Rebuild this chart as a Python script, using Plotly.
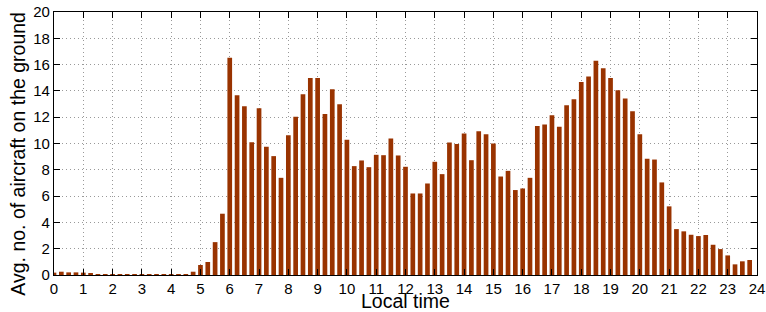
import plotly.graph_objects as go

# Quarter-hour time slots (hours, local time)
time_slots = [i * 0.25 for i in range(96)]

avg_aircraft = [
    # 0:00 - 5:45
    0.18, 0.25, 0.20, 0.20, 0.18, 0.10, 0.05, 0.05,
    0.05, 0.05, 0.05, 0.03, 0.03, 0.03, 0.03, 0.03,
    0.03, 0.03, 0.05, 0.25, 0.76, 0.99, 2.50, 4.66,
    # 6:00 - 11:45
    16.53, 13.67, 12.84, 10.10, 12.68, 9.75, 9.04, 7.39,
    10.63, 12.03, 13.75, 14.99, 14.99, 12.25, 14.13, 12.99,
    10.28, 8.28, 8.71, 8.20, 9.14, 9.11, 10.38, 9.09,
    # 12:00 - 17:45
    8.23, 6.20, 6.20, 6.96, 8.61, 7.67, 10.08, 9.97,
    10.76, 8.73, 10.94, 10.71, 10.00, 7.49, 7.92, 6.46,
    6.58, 7.39, 11.34, 11.44, 12.15, 11.27, 12.91, 13.37,
    # 18:00 - 23:45
    14.68, 15.09, 16.30, 15.72, 14.99, 14.05, 13.42, 12.46,
    10.71, 8.84, 8.78, 7.04, 5.22, 3.49, 3.32, 3.06,
    2.96, 3.04, 2.30, 1.97, 1.49, 0.81, 1.04, 1.14,
]

x_ticks = list(range(0, 25))
y_ticks = list(range(0, 21, 2))

x_title = "Local time"
y_title = "Avg. no. of aircraft on the ground"

FONT = "Liberation Sans, Arial, sans-serif"

fig = go.Figure()
fig.add_trace(go.Bar(
    x=time_slots,
    y=avg_aircraft,
    marker=dict(color="#993300", line=dict(width=0)),
    showlegend=False,
))

axis_common = dict(
    showline=True,
    linecolor="black",
    linewidth=1.3,
    mirror="ticks",
    ticks="inside",
    ticklen=6,
    tickwidth=1,
    tickcolor="black",
    showgrid=True,
    gridcolor="#999999",
    griddash="1px,3px",
    gridwidth=1,
    zeroline=False,
    automargin=False,
    ticklabeloverflow="allow",
    tickfont=dict(family=FONT, size=15, color="black"),
)

fig.update_layout(
    width=766,
    height=312,
    margin=dict(l=54, r=9, t=12, b=37),
    paper_bgcolor="white",
    plot_bgcolor="white",
    bargap=0.36,
    font=dict(family=FONT, color="black"),
    xaxis=dict(
        range=[0, 24],
        tickvals=x_ticks,
        ticktext=[str(v) for v in x_ticks],
        ticklabelstandoff=0,
        **axis_common,
    ),
    yaxis=dict(
        range=[0, 20],
        tickvals=y_ticks,
        ticktext=[str(v) for v in y_ticks],
        **axis_common,
    ),
    annotations=[
        dict(
            text=x_title, xref="paper", yref="paper",
            x=0.5, y=-0.1, xanchor="center", yanchor="middle",
            showarrow=False, font=dict(family=FONT, size=19.5, color="black"),
        ),
        dict(
            text=y_title, xref="paper", yref="paper",
            x=-0.0513, y=0.461, xanchor="center", yanchor="middle",
            textangle=-90,
            showarrow=False, font=dict(family=FONT, size=19.5, color="black"),
        ),
    ],
)

fig.write_html(
    "out.html",
    config={"displayModeBar": False},
    post_script="document.body.style.margin='0';document.body.style.padding='0';",
)
